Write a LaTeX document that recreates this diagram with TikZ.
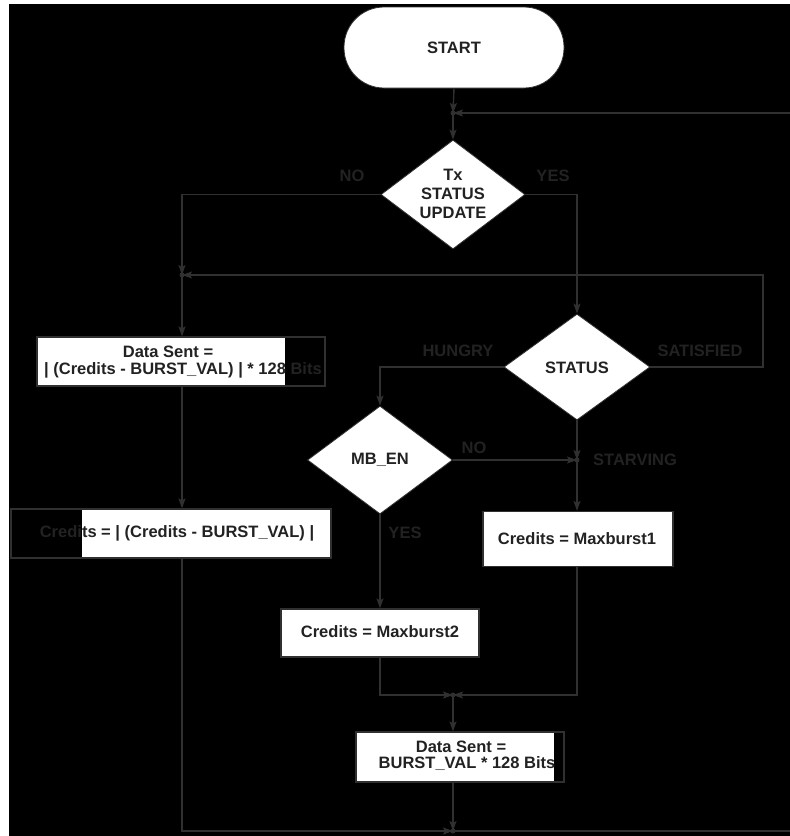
\documentclass[tikz,border=0pt]{standalone}
\usepackage{fontspec}
\setmainfont{Liberation Sans}
\usetikzlibrary{shapes.geometric,arrows.meta}
\definecolor{lc}{RGB}{48,48,48}
\definecolor{tc}{RGB}{34,34,34}
\tikzset{
  ln/.style={draw=lc, line width=1.4pt},
  arr/.style={ln, -{Stealth[length=10pt,width=7pt,inset=2pt]}},
  dia/.style={shape=diamond, fill=white, draw=lc, line width=0.8pt, inner sep=0pt},
  boxx/.style={shape=rectangle, draw=lc, line width=1.2pt, inner sep=0pt},
  txt/.style={text=tc, inner sep=0pt, font=\bfseries\fontsize{16.5}{19}\selectfont, align=center},
  jdot/.style={fill=lc},
}
\begin{document}
\begin{tikzpicture}[x=1pt,y=-1pt]
\useasboundingbox (0,0) rectangle (790,836);
\fill[white] (0,0) rectangle (790,836);
\fill[black] (9,4) rectangle (790,836);

% junctions and free ends
\coordinate (j1) at (453,113);
\coordinate (j2) at (182,275);
\coordinate (j3) at (577,460);
\coordinate (j4) at (453,695);
\coordinate (j5) at (453,831);
\coordinate (e1) at (790,113);
\coordinate (e2) at (790,831);
\coordinate (s1) at (763,367);
\coordinate (s2) at (763,275);

% shapes
\node[shape=rectangle, rounded corners=40pt, fill=white, draw=lc, line width=0.8pt,
      minimum width=220pt, minimum height=81pt] (start) at (454,47.5) {};
\node[txt] (startt) at (start.center) {START};

\node[dia, minimum width=144pt, minimum height=109pt] (tx) at (453,194.5) {};
\node[txt] (txt1) at (453,194) {Tx\\STATUS\\UPDATE};

\node[dia, minimum width=146pt, minimum height=106pt] (status) at (577,367) {};
\node[txt] (statust) at (577,368) {STATUS};

\node[dia, minimum width=145pt, minimum height=108pt] (mben) at (380,460) {};
\node[txt] (mbent) at (380,460) {MB\_EN};

% box 1: Data Sent
\fill[white] (37,337) rectangle (285,386);
\node[boxx, minimum width=288pt, minimum height=49pt] (box1) at (181,361.5) {};
\node[txt] (b1a) at (168,352) {Data Sent =};
\node[txt] (b1b) at (183,370) {| (Credits - BURST\_VAL) | * 128 Bits};

% box 2: Credits
\fill[white] (82,509) rectangle (331,558);
\node[boxx, minimum width=320pt, minimum height=49pt] (box2) at (171,533.5) {};
\node[txt] (b2a) at (177,533) {Credits = | (Credits - BURST\_VAL) |};

% Maxburst1
\node[boxx, fill=white, minimum width=190pt, minimum height=55pt] (mb1) at (578,539) {};
\node[txt] (mb1t) at (577,539) {Credits = Maxburst1};

% Maxburst2
\node[boxx, fill=white, minimum width=198pt, minimum height=48pt] (mb2) at (380,633) {};
\node[txt] (mb2t) at (380,632) {Credits = Maxburst2};

% Data Sent 2
\fill[white] (356,732) rectangle (554,782);
\node[boxx, minimum width=208pt, minimum height=50pt] (ds2) at (460,757) {};
\node[txt] (d2a) at (461,747) {Data Sent =};
\node[txt] (d2b) at (467,764) {BURST\_VAL * 128 Bits};

% labels
\node[txt] (lno1) at (352,176) {NO};
\node[txt] (lyes1) at (553,176) {YES};
\node[txt] (lhun) at (458,351) {HUNGRY};
\node[txt] (lsat) at (700,351) {SATISFIED};
\node[txt] (lno2) at (474,448) {NO};
\node[txt] (lstarv) at (635,460) {STARVING};
\node[txt] (lyes2) at (405,533) {YES};

% connectors
\draw[arr] (start.south) -- (j1);
\draw[arr] (e1) -- (j1);
\draw[arr] (j1) -- (tx.north);
\draw[arr] (tx.west) -| (j2);
\draw[arr] (tx.east) -| (status.north);
\draw[arr] (status.east) -- (s1) -- (s2) -- (j2);
\draw[arr] (j2) -- (box1.north -| j2);
\draw[arr] (box1.south -| j2) -- (box2.north -| j2);
\draw[arr] (box2.south -| j2) |- (j5);
\draw[arr] (status.west) -| (mben.north);
\draw[arr] (status.south) -- (j3);
\draw[arr] (mben.east) -- (j3);
\draw[arr] (j3) -- (mb1.north -| j3);
\draw[arr] (mben.south) -- (mb2.north);
\draw[arr] (mb2.south) |- (j4);
\draw[arr] (mb1.south -| j3) |- (j4);
\draw[arr] (j4) -- (ds2.north -| j4);
\draw[arr] (ds2.south -| j4) -- (j5);
\draw[ln] (j5) -- (e2);

% junction dots
\foreach \j in {j1,j2,j3,j4,j5} \fill[jdot] (\j) circle (2.5pt);
\end{tikzpicture}
\end{document}
